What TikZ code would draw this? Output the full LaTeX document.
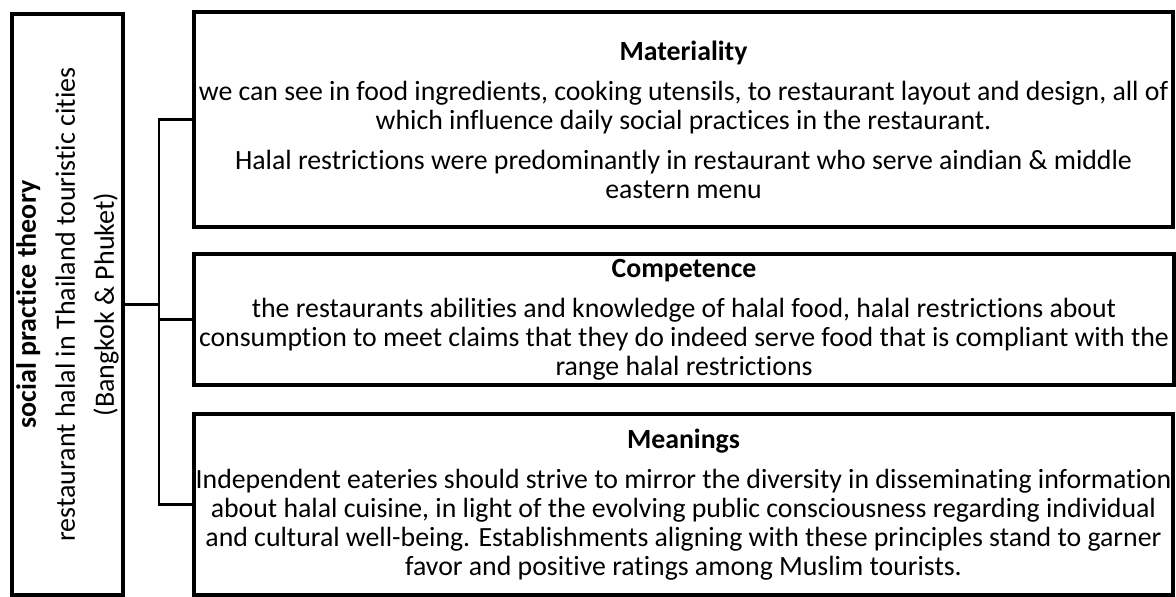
\documentclass[tikz,border=0pt]{standalone}
\usepackage{fontspec}
\setmainfont{Carlito}[Ligatures=NoCommon]
\begin{document}
\begin{tikzpicture}[x=0.5pt,y=-0.5pt,
  box/.style={draw, line width=1.7pt, inner sep=0pt, outer sep=0pt},
  conn/.style={line width=1.1pt},
  txt/.style={align=center, font=\fontsize{13.9}{14.5}\selectfont},
  vtxt/.style={align=center, rotate=90, inner sep=0pt, font=\fontsize{14}{19.5}\selectfont}]
\useasboundingbox (0,0) rectangle (1176,597);
\fill[white] (0,0) rectangle (1176,597);
\node[box, minimum width=55.5pt, minimum height=290.5pt] (spt) at (67.5,304.5) {};
\node[vtxt] (spttxt) at (spt.center) {\textbf{social practice theory}\\restaurant halal in Thailand touristic cities\\(Bangkok \& Phuket)};
\node[box, txt, minimum width=489.5pt, minimum height=107.5pt] (mat) at (683.5,119.5) {\textbf{Materiality}\\[5.5pt]we can see in food ingredients, cooking utensils, to restaurant layout and design, all of\\which influence daily social practices in the restaurant.\\[5.5pt]Halal restrictions were predominantly in restaurant who serve aindian \& middle\\eastern menu};
\node[box, txt, minimum width=490pt, minimum height=65.5pt] (comp) at (684,319.5) {\textbf{Competence}\\[5.5pt]the restaurants abilities and knowledge of halal food, halal restrictions about\\consumption to meet claims that they do indeed serve food that is compliant with the\\range halal restrictions};
\node[box, txt, minimum width=489.5pt, minimum height=90.5pt] (mean) at (683.5,504.5) {\textbf{Meanings}\\[5.5pt]Independent eateries should strive to mirror the diversity in disseminating information\\about halal cuisine, in light of the evolving public consciousness regarding individual\\and cultural well-being. Establishments aligning with these principles stand to garner\\favor and positive ratings among Muslim tourists.};
\draw[conn] (spt.east) -- ++(36,0) coordinate (j);
\draw[conn] (mat.west) -| (j) |- (mean.west);
\draw[conn] (j |- comp.west) -- (comp.west);
\end{tikzpicture}
\end{document}
